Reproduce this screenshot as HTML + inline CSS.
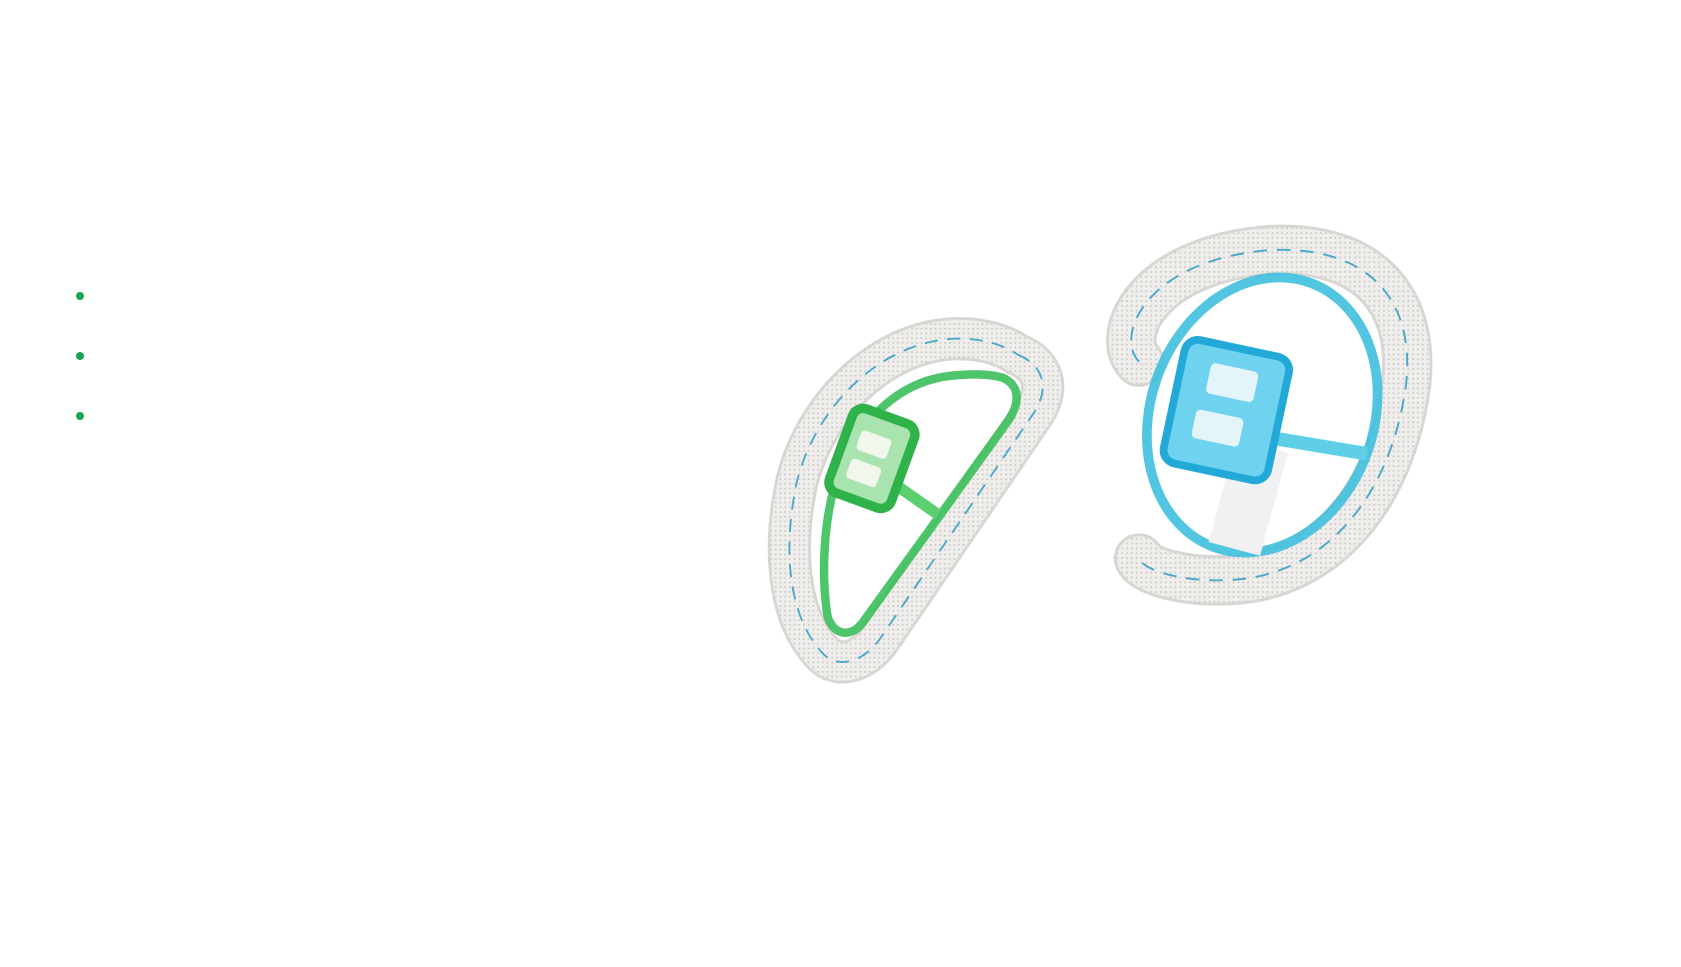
<!DOCTYPE html>
<html><head><meta charset="utf-8"><style>
html,body{margin:0;padding:0;background:#fff;width:1681px;height:967px;overflow:hidden}
.dot{position:absolute;left:76px;width:8px;height:8px;border-radius:50%;background:#1aa356}
</style></head><body>
<div class="dot" style="top:292px"></div>
<div class="dot" style="top:352px"></div>
<div class="dot" style="top:412px"></div>
<svg width="1681" height="967" style="position:absolute;left:0;top:0">
<defs>
<pattern id="kn" width="5" height="5" patternUnits="userSpaceOnUse">
<rect width="5" height="5" fill="#efeeec"/><circle cx="2.5" cy="2.5" r="1" fill="#c9c6c1"/>
</pattern>
</defs>
<g transform="translate(905,505) scale(0.94) translate(-905,-495)">
<path d="M1025,335 C1060,350 1055,380 1040,400 L880,635 C860,665 830,670 815,650 C780,610 775,540 790,470 C810,390 880,320 960,318 C990,318 1010,325 1025,335 Z" fill="none" stroke="#d8d6d2" stroke-width="46" stroke-linejoin="round"/>
<path d="M1025,335 C1060,350 1055,380 1040,400 L880,635 C860,665 830,670 815,650 C780,610 775,540 790,470 C810,390 880,320 960,318 C990,318 1010,325 1025,335 Z" fill="none" stroke="url(#kn)" stroke-width="40" stroke-linejoin="round"/>
<path d="M1025,335 C1060,350 1055,380 1040,400 L880,635 C860,665 830,670 815,650 C780,610 775,540 790,470 C810,390 880,320 960,318 C990,318 1010,325 1025,335 Z" fill="none" stroke="#4aa8c8" stroke-width="2" stroke-dasharray="14 10"/>
<path d="M1010,360 C1030,370 1025,390 1015,405 L860,620 C845,640 825,630 822,610 C815,560 820,500 835,460 C860,400 900,365 950,358 C975,355 995,355 1010,360 Z" fill="none" stroke="#3bbf5a" stroke-width="9" opacity="0.9"/>
<line x1="890" y1="470" x2="940" y2="505" stroke="#5ccf70" stroke-width="12"/>
<rect x="835" y="398" width="70" height="95" rx="12" transform="rotate(20 870 445)" fill="#a9e4b0" stroke="#2fb24a" stroke-width="10"/>
<rect x="850" y="420" width="34" height="22" rx="4" transform="rotate(20 870 445)" fill="#f2f7ec"/>
<rect x="850" y="452" width="34" height="22" rx="4" transform="rotate(20 870 445)" fill="#f2f7ec"/>
</g>
<g transform="translate(1270,415) scale(0.97) translate(-1270,-410)">
<path d="M1135,355 C1110,330 1140,250 1270,240 C1380,235 1420,300 1410,380 C1395,490 1330,575 1230,580 C1180,583 1140,570 1135,558" fill="none" stroke="#d8d6d2" stroke-width="52" stroke-linecap="round"/>
<path d="M1135,355 C1110,330 1140,250 1270,240 C1380,235 1420,300 1410,380 C1395,490 1330,575 1230,580 C1180,583 1140,570 1135,558" fill="none" stroke="url(#kn)" stroke-width="46" stroke-linecap="round"/>
<path d="M1135,355 C1110,330 1140,250 1270,240 C1380,235 1420,300 1410,380 C1395,490 1330,575 1230,580 C1180,583 1140,570 1135,558" fill="none" stroke="#4aa8c8" stroke-width="2" stroke-dasharray="14 10"/>
<ellipse cx="1262" cy="410" rx="115" ry="145" transform="rotate(20 1262 410)" fill="none" stroke="#3fc0de" stroke-width="10" opacity="0.9"/>
<rect x="1220" y="440" width="55" height="110" fill="#f1f1f3" transform="rotate(15 1248 495)"/>
<line x1="1250" y1="430" x2="1370" y2="450" stroke="#5fcfe6" stroke-width="14"/>
<rect x="1170" y="340" width="110" height="130" rx="14" transform="rotate(12 1225 405)" fill="#6fd2ee" stroke="#22a9d8" stroke-width="8"/>
<rect x="1200" y="360" width="50" height="32" rx="5" transform="rotate(12 1225 405)" fill="#e4f5fa"/>
<rect x="1195" y="410" width="50" height="30" rx="5" transform="rotate(12 1225 405)" fill="#e4f5fa"/>
</g>
</svg>
</body></html>
